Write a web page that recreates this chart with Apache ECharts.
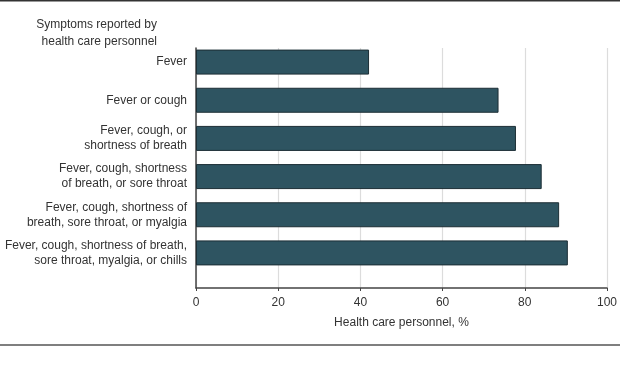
<!DOCTYPE html>
<html>
<head>
<meta charset="utf-8">
<script src="https://cdn.jsdelivr.net/npm/echarts@6/dist/echarts.min.js"></script>
<style>html,body{margin:0;padding:0;background:#fff;}#c{width:620px;height:368px;}</style>
</head>
<body>
<div id="c"></div>
<script>
const categories = [
  'Fever',
  'Fever or cough',
  'Fever, cough, or\nshortness of breath',
  'Fever, cough, shortness\nof breath, or sore throat',
  'Fever, cough, shortness of\nbreath, sore throat, or myalgia',
  'Fever, cough, shortness of breath,\nsore throat, myalgia, or chills'
];
const values = [41.7, 72.9, 77.1, 83.3, 87.5, 89.6];
const xTicks = [0, 20, 40, 60, 80, 100];
const titleText = 'Symptoms reported by\nhealth care personnel';
const xName = 'Health care personnel, %';

const FONT = 'Liberation Sans';
const TXT = '#333';
const chart = echarts.init(document.getElementById('c'), null, {renderer: 'canvas'});
chart.setOption({
  backgroundColor: '#fff',
  animation: false,
  title: {
    text: titleText,
    left: 157,
    top: 16,
    padding: 0,
    textAlign: 'right',
    textStyle: {fontFamily: FONT, fontSize: 12, fontWeight: 'normal', color: TXT, lineHeight: 17, align: 'right'}
  },
  grid: [
    {left: 196, right: 9, top: 48, bottom: 80, containLabel: false},
    {left: 196, right: 9, top: 43, bottom: 96, containLabel: false}
  ],
  xAxis: [
    {
      gridIndex: 0, type: 'value', min: xTicks[0], max: xTicks[xTicks.length - 1], interval: 20,
      axisLine: {show: true, lineStyle: {color: '#444', width: 1.5}},
      axisTick: {show: true, length: 3, lineStyle: {color: '#444'}},
      axisLabel: {fontFamily: FONT, fontSize: 12, color: TXT, margin: 9},
      splitLine: {show: true, lineStyle: {color: '#dcdcdc', width: 1.2}},
      name: xName, nameLocation: 'middle', nameGap: 29,
      nameTextStyle: {fontFamily: FONT, fontSize: 12, color: TXT}
    },
    {
      gridIndex: 1, type: 'value', min: xTicks[0], max: xTicks[xTicks.length - 1], interval: 20,
      show: false
    }
  ],
  yAxis: [
    {
      gridIndex: 0, type: 'value', min: 0, max: 1,
      axisLine: {show: true, onZero: false, lineStyle: {color: '#444', width: 1.5}},
      axisTick: {show: false}, axisLabel: {show: false}, splitLine: {show: false}
    },
    {
      gridIndex: 1, type: 'category', data: categories, inverse: true,
      axisLine: {show: false}, axisTick: {show: false}, splitLine: {show: false},
      axisLabel: {fontFamily: FONT, fontSize: 12, color: TXT, margin: 9, lineHeight: 15, align: 'right'}
    }
  ],
  series: [{
    type: 'bar', xAxisIndex: 1, yAxisIndex: 1,
    data: values, barWidth: 25,
    itemStyle: {color: '#2e5461', borderColor: '#1c2e35', borderWidth: 1},
    silent: true
  }],
  graphic: [
    {type: 'line', shape: {x1: 0, y1: 0.5, x2: 620, y2: 0.5}, style: {stroke: '#333', lineWidth: 2}},
    {type: 'line', shape: {x1: 0, y1: 345, x2: 620, y2: 345}, style: {stroke: '#555', lineWidth: 1.5}}
  ]
});
</script>
</body>
</html>
